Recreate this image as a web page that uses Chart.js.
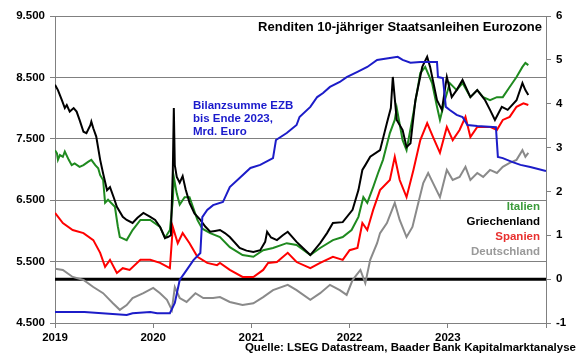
<!DOCTYPE html>
<html>
<head>
<meta charset="utf-8">
<script src="https://cdn.jsdelivr.net/npm/chart.js@4.4.0/dist/chart.umd.min.js"></script>
<style>
  html, body { margin: 0; padding: 0; background: #fff; }
  #wrap { width: 580px; height: 359px; }
</style>
</head>
<body>
<div id="wrap"><canvas id="chart" width="580" height="359"></canvas></div>
<script>
// ===============================
// DATA (x = Jahr als Dezimalzahl)
// ===============================
const xTicks = [2019, 2020, 2021, 2022, 2023, 2024];
const leftTicks = [4500, 5500, 6500, 7500, 8500, 9500];
const rightTicks = [-1, 0, 1, 2, 3, 4, 5, 6];

// Bilanzsumme EZB, Mrd. Euro (linke Achse)
const ezbX = [2019.00, 2019.30, 2019.73, 2019.79, 2019.97, 2020.04, 2020.17, 2020.22, 2020.27, 2020.34,
  2020.41, 2020.48, 2020.50, 2020.55, 2020.61, 2020.71, 2020.78, 2020.88, 2020.99, 2021.09,
  2021.22, 2021.25, 2021.36, 2021.46, 2021.49, 2021.60, 2021.67, 2021.73, 2021.80, 2021.90,
  2021.97, 2022.08, 2022.18, 2022.28, 2022.41, 2022.49, 2022.54, 2022.62, 2022.72, 2022.89,
  2022.90, 2022.95, 2022.98, 2023.02, 2023.09, 2023.15, 2023.20, 2023.30, 2023.49, 2023.51,
  2023.56, 2023.66, 2023.74, 2023.84, 2024.00];
const ezbY = [4680, 4680, 4630, 4660, 4680, 4660, 4660, 4825, 5200, 5360,
  5525, 5640, 6225, 6340, 6420, 6470, 6715, 6860, 7025, 7075,
  7185, 7480, 7595, 7725, 7855, 8020, 8180, 8245, 8345, 8425,
  8505, 8590, 8670, 8785, 8815, 8835, 8785, 8740, 8750, 8750,
  8505, 8490, 8020, 7970, 7890, 7855, 7725, 7710, 7690, 7205,
  7185, 7120, 7075, 7040, 6975];

// Renditen in % (rechte Achse)
const grX = [2019.00, 2019.03, 2019.07, 2019.10, 2019.12, 2019.15, 2019.19, 2019.22, 2019.25, 2019.29,
  2019.32, 2019.36, 2019.37, 2019.39, 2019.42, 2019.46, 2019.49, 2019.53,
  2019.56, 2019.60, 2019.63, 2019.69, 2019.73, 2019.79, 2019.84,
  2019.90, 2019.97, 2020.02, 2020.07, 2020.12, 2020.15, 2020.18, 2020.20, 2020.21, 2020.22,
  2020.24, 2020.27, 2020.30, 2020.33, 2020.37, 2020.42, 2020.48, 2020.53, 2020.58, 2020.63,
  2020.68, 2020.73, 2020.78, 2020.88, 2020.95, 2021.02, 2021.09, 2021.14, 2021.16, 2021.20,
  2021.26, 2021.32, 2021.37, 2021.46, 2021.53, 2021.60, 2021.70, 2021.77, 2021.83, 2021.93,
  2022.03, 2022.09, 2022.13, 2022.16, 2022.21, 2022.31, 2022.38, 2022.42, 2022.44, 2022.48,
  2022.54, 2022.58, 2022.62, 2022.67, 2022.74, 2022.79, 2022.82, 2022.89, 2022.94, 2022.99,
  2023.04, 2023.09, 2023.15, 2023.23, 2023.30, 2023.38, 2023.43, 2023.48, 2023.55, 2023.61,
  2023.70, 2023.76, 2023.79, 2023.82];
const grY = [4.43, 4.31, 4.08, 3.90, 3.97, 3.82, 3.90, 3.82, 3.63, 3.36,
  3.33, 3.51, 3.59, 3.44, 3.25, 2.72, 2.41, 2.03,
  2.10, 1.85, 1.65, 1.42, 1.35, 1.28, 1.40,
  1.51, 1.42, 1.35, 1.19, 0.94, 0.96, 1.00, 2.50, 3.90, 2.60,
  2.33, 2.20, 2.35, 2.05, 1.74, 1.50, 1.35, 1.20, 1.08, 1.10,
  1.12, 1.05, 0.96, 0.71, 0.65, 0.62, 0.66, 0.85, 1.08, 0.95,
  0.89, 1.00, 1.08, 0.85, 0.70, 0.55, 0.82, 1.05, 1.28, 1.30,
  1.58, 2.03, 2.49, 2.60, 2.79, 2.94, 3.56, 3.90, 4.61, 3.63,
  3.40, 3.01, 3.10, 4.08, 4.84, 5.07, 4.84, 4.08, 3.86, 4.61,
  4.15, 4.31, 4.54, 4.15, 4.31, 4.08, 3.86, 3.63, 3.93, 3.86,
  4.08, 4.47, 4.31, 4.20];

const itX = [2019.00, 2019.02, 2019.03, 2019.05, 2019.08, 2019.10, 2019.14, 2019.17, 2019.20, 2019.25,
  2019.29, 2019.34, 2019.37, 2019.41, 2019.44, 2019.46, 2019.49, 2019.51, 2019.54,
  2019.61, 2019.64, 2019.66, 2019.73, 2019.79, 2019.87, 2019.97, 2020.07, 2020.12, 2020.17,
  2020.20, 2020.21, 2020.24, 2020.27, 2020.32, 2020.37, 2020.45, 2020.50, 2020.58, 2020.68,
  2020.78, 2020.91, 2021.02, 2021.12, 2021.22, 2021.36, 2021.46, 2021.60, 2021.70, 2021.83,
  2021.93, 2022.02, 2022.09, 2022.14, 2022.18, 2022.24, 2022.29, 2022.34, 2022.41, 2022.46,
  2022.48, 2022.54, 2022.58, 2022.65, 2022.72, 2022.77, 2022.84, 2022.89, 2022.92, 2022.97,
  2023.02, 2023.09, 2023.15, 2023.23, 2023.30, 2023.36, 2023.43, 2023.50, 2023.56, 2023.63,
  2023.70, 2023.76, 2023.79, 2023.82];
const itY = [2.94, 2.87, 2.72, 2.83, 2.79, 2.91, 2.72, 2.60, 2.64, 2.56,
  2.60, 2.68, 2.72, 2.60, 2.53, 2.37, 2.26, 1.74, 1.81,
  1.65, 1.20, 0.96, 0.89, 1.12, 1.35, 1.35, 1.19, 0.94, 1.12,
  1.80, 2.33, 1.95, 1.70, 1.87, 1.87, 1.35, 1.15, 1.05, 0.96,
  0.73, 0.55, 0.51, 0.66, 0.71, 0.82, 0.78, 0.55, 0.71, 0.89,
  0.96, 1.12, 1.42, 1.87, 1.74, 2.10, 2.42, 2.72, 3.33, 3.63,
  3.90, 3.17, 2.94, 3.79, 4.70, 4.84, 4.47, 3.93, 3.63, 4.08,
  4.47, 4.31, 4.47, 4.15, 4.31, 4.15, 4.08, 4.15, 4.15, 4.38,
  4.61, 4.84, 4.93, 4.88];

const esX = [2019.00, 2019.08, 2019.18, 2019.29, 2019.39, 2019.46, 2019.51, 2019.56, 2019.63, 2019.69,
  2019.76, 2019.87, 2019.97, 2020.07, 2020.17, 2020.20, 2020.25, 2020.30, 2020.37, 2020.45,
  2020.55, 2020.65, 2020.68, 2020.78, 2020.91, 2021.02, 2021.12, 2021.17, 2021.26, 2021.37,
  2021.46, 2021.60, 2021.70, 2021.83, 2021.93, 2022.00, 2022.08, 2022.13, 2022.18, 2022.21,
  2022.24, 2022.31, 2022.41, 2022.46, 2022.51, 2022.58, 2022.65, 2022.72, 2022.79, 2022.85,
  2022.92, 2022.99, 2023.05, 2023.12, 2023.18, 2023.23, 2023.30, 2023.36, 2023.43, 2023.50,
  2023.56, 2023.63, 2023.70, 2023.77, 2023.82];
const esY = [1.51, 1.28, 1.12, 1.05, 0.89, 0.60, 0.28, 0.44, 0.14, 0.25,
  0.21, 0.44, 0.44, 0.37, 0.25, 1.19, 0.82, 1.05, 0.82, 0.51,
  0.37, 0.32, 0.37, 0.21, 0.05, 0.05, 0.21, 0.37, 0.39, 0.60,
  0.39, 0.25, 0.37, 0.51, 0.44, 0.66, 0.71, 1.28, 1.12, 1.35,
  1.58, 2.03, 2.26, 2.79, 2.26, 1.87, 2.49, 3.17, 3.56, 3.24,
  2.88, 3.47, 3.17, 3.40, 3.70, 3.24, 3.47, 3.47, 3.47, 3.40,
  3.63, 3.70, 3.93, 4.01, 3.97];

const deX = [2019.00, 2019.08, 2019.18, 2019.29, 2019.39, 2019.49, 2019.59, 2019.66, 2019.73, 2019.79,
  2019.90, 2020.00, 2020.07, 2020.14, 2020.19, 2020.22, 2020.27, 2020.34, 2020.43, 2020.51,
  2020.61, 2020.68, 2020.78, 2020.91, 2021.02, 2021.12, 2021.22, 2021.37, 2021.46, 2021.60,
  2021.70, 2021.80, 2021.90, 2021.97, 2022.03, 2022.11, 2022.16, 2022.21, 2022.28, 2022.31,
  2022.38, 2022.46, 2022.51, 2022.58, 2022.64, 2022.69, 2022.75, 2022.80, 2022.85, 2022.92,
  2022.99, 2023.05, 2023.12, 2023.18, 2023.23, 2023.30, 2023.36, 2023.43, 2023.50, 2023.56,
  2023.63, 2023.70, 2023.76, 2023.79, 2023.82];
const deY = [0.24, 0.21, 0.05, -0.02, -0.18, -0.32, -0.55, -0.70, -0.59, -0.43,
  -0.32, -0.20, -0.32, -0.47, -0.70, -0.18, -0.43, -0.52, -0.32, -0.43,
  -0.43, -0.41, -0.52, -0.59, -0.55, -0.41, -0.25, -0.13, -0.25, -0.47,
  -0.32, -0.13, -0.25, -0.36, -0.02, 0.21, -0.09, 0.44, 0.82, 1.05,
  1.28, 1.74, 1.35, 0.96, 1.19, 1.65, 2.19, 2.42, 2.19, 1.87,
  2.49, 2.26, 2.33, 2.56, 2.26, 2.42, 2.33, 2.49, 2.42, 2.56,
  2.65, 2.72, 2.94, 2.79, 2.88];

// Null-Linie (rechte Achse)
const zeroX = [2019, 2024];
const zeroY = [0, 0];

// ===============================
// HELPER
// ===============================
const FONT = "'Liberation Sans', Arial, sans-serif";

function pts(xs, ys) {
  return xs.map((x, i) => ({ x: x, y: ys[i] }));
}

function fmtDe(v) {
  return String(v).replace(/\B(?=(\d{3})+(?!\d))/g, ".");
}

function line(label, xs, ys, color, axis, width) {
  return {
    label: label,
    data: pts(xs, ys),
    borderColor: color,
    backgroundColor: color,
    borderWidth: width || 2,
    pointRadius: 0,
    tension: 0,
    yAxisID: axis
  };
}

// Texte im Diagramm
const textPlugin = {
  id: "texte",
  afterDraw(chart) {
    const c = chart.ctx;
    c.save();
    c.textBaseline = "middle";

    c.font = "bold 13px " + FONT;
    c.fillStyle = "#000";
    c.textAlign = "right";
    c.fillText("Renditen 10-jähriger Staatsanleihen Eurozone", 542, 27);

    c.font = "bold 11.5px " + FONT;
    c.fillStyle = "#1a1acc";
    c.textAlign = "left";
    ["Bilanzsumme EZB", "bis Ende 2023,", "Mrd. Euro"].forEach((t, i) => {
      c.fillText(t, 193, 106 + i * 13);
    });

    c.textAlign = "right";
    const leg = [
      ["Italien", "#3a9a3a"],
      ["Griechenland", "#000000"],
      ["Spanien", "#e8302f"],
      ["Deutschland", "#999999"]
    ];
    leg.forEach((l, i) => {
      c.fillStyle = l[1];
      c.fillText(l[0], 540, 207 + i * 15);
    });

    c.font = "bold 11.5px " + FONT;
    c.fillStyle = "#000";
    c.fillText("Quelle: LSEG Datastream, Baader Bank Kapitalmarktanalyse", 576, 348);
    c.restore();
  }
};

// ===============================
// CHART
// ===============================
const tickFont = { family: FONT, size: 11.5, weight: "bold" };

new Chart(document.getElementById("chart"), {
  type: "line",
  data: {
    datasets: [
      line("Bilanzsumme EZB", ezbX, ezbY, "#1c1cc8", "yL"),
      line("Griechenland", grX, grY, "#000000", "yR"),
      line("Italien", itX, itY, "#1f8a1f", "yR"),
      line("Spanien", esX, esY, "#ff0000", "yR"),
      line("Deutschland", deX, deY, "#8a8a8a", "yR"),
      line("Null", zeroX, zeroY, "#000000", "yR", 3)
    ]
  },
  options: {
    responsive: false,
    animation: false,
    layout: { padding: { top: 16, left: 0, right: 0, bottom: 0 } },
    plugins: {
      legend: { display: false },
      tooltip: { enabled: false }
    },
    scales: {
      x: {
        type: "linear",
        min: 2019,
        max: 2024,
        afterBuildTicks: s => { s.ticks = xTicks.map(v => ({ value: v })); },
        afterFit: s => { s.height = 36; },
        ticks: {
          callback: v => (v < 2024 ? String(v) : ""),
          font: tickFont,
          color: "#000",
          maxRotation: 0,
          autoSkip: false,
          padding: 3
        },
        grid: { drawOnChartArea: false, tickLength: 5, color: "#808080" },
        border: { color: "#808080" }
      },
      yL: {
        position: "left",
        min: 4500,
        max: 9500,
        afterBuildTicks: s => { s.ticks = leftTicks.map(v => ({ value: v })); },
        afterFit: s => { s.width = 55; },
        ticks: { callback: v => fmtDe(v), font: tickFont, color: "#000", padding: 5 },
        grid: { color: "#808080", tickLength: 5 },
        border: { color: "#808080" }
      },
      yR: {
        position: "right",
        min: -1,
        max: 6,
        afterBuildTicks: s => { s.ticks = rightTicks.map(v => ({ value: v })); },
        afterFit: s => { s.width = 34; },
        ticks: { font: tickFont, color: "#000", padding: 5 },
        grid: { drawOnChartArea: false, tickLength: 5, color: "#808080" },
        border: { color: "#808080" }
      }
    }
  },
  plugins: [textPlugin]
});
</script>
</body>
</html>
